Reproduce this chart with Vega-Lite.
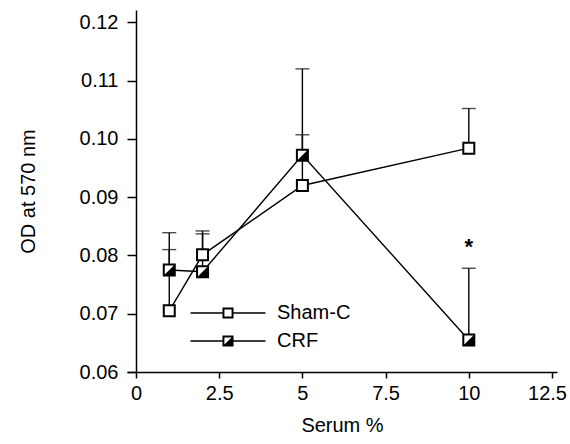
{
  "$schema": "https://vega.github.io/schema/vega-lite/v6.json",
  "width": 430,
  "height": 362,
  "autosize": {"type": "none"},
  "padding": {"left": 127, "top": 10, "right": 13, "bottom": 72},
  "background": "white",
  "config": {
    "view": {"stroke": null},
    "font": "Liberation Sans",
    "axis": {
      "grid": false,
      "domainColor": "black",
      "domainWidth": 1.5,
      "tickColor": "black",
      "tickWidth": 1.5,
      "labelColor": "black",
      "labelFont": "Liberation Sans",
      "labelFontSize": 20,
      "titleFont": "Liberation Sans",
      "titleFontSize": 20,
      "titleFontWeight": "normal",
      "titleColor": "black"
    }
  },
  "data": {
    "values": [
      {"group": "Sham-C", "serum": 1, "od": 0.0705, "upper": 0.0810, "sig": ""},
      {"group": "Sham-C", "serum": 2, "od": 0.0801, "upper": 0.0837, "sig": ""},
      {"group": "Sham-C", "serum": 5, "od": 0.0920, "upper": 0.1007, "sig": ""},
      {"group": "Sham-C", "serum": 10, "od": 0.0984, "upper": 0.1052, "sig": ""},
      {"group": "CRF", "serum": 1, "od": 0.0775, "upper": 0.0839, "sig": ""},
      {"group": "CRF", "serum": 2, "od": 0.0772, "upper": 0.0842, "sig": ""},
      {"group": "CRF", "serum": 5, "od": 0.0972, "upper": 0.1120, "sig": ""},
      {"group": "CRF", "serum": 10, "od": 0.0655, "upper": 0.0778, "sig": "*"}
    ]
  },
  "encoding": {
    "x": {
      "field": "serum",
      "type": "quantitative",
      "scale": {"domain": [-0.27, 12.65], "nice": false, "zero": false},
      "axis": {
        "title": "Serum %",
        "values": [0, 2.5, 5, 7.5, 10, 12.5],
        "format": ".3~g",
        "tickSize": 6,
        "labelPadding": 5,
        "labelOffset": {"condition": {"test": "datum.value == 12.5", "value": -5}, "value": 0},
        "titlePadding": 12
      }
    },
    "y": {
      "field": "od",
      "type": "quantitative",
      "scale": {"domain": [0.06, 0.1221], "nice": false, "zero": false},
      "axis": {
        "title": "OD at 570 nm",
        "values": [0.06, 0.07, 0.08, 0.09, 0.1, 0.11, 0.12],
        "format": ".2f",
        "offset": -9,
        "tickSize": 9,
        "labelPadding": 9,
        "titlePadding": 41
      }
    }
  },
  "layer": [
    {
      "mark": {"type": "rule", "color": "black", "strokeWidth": 1.4},
      "encoding": {"y2": {"field": "upper"}}
    },
    {
      "mark": {"type": "tick", "orient": "horizontal", "color": "black", "size": 14, "thickness": 1.4},
      "encoding": {"y": {"field": "upper", "type": "quantitative"}}
    },
    {
      "mark": {"type": "line", "color": "black", "strokeWidth": 1.4},
      "encoding": {"detail": {"field": "group"}}
    },
    {
      "mark": {"type": "point", "filled": true, "fill": "white", "stroke": "black", "strokeWidth": 2, "size": 121, "opacity": 1, "shape": "square"}
    },
    {
      "transform": [{"filter": "datum.group === 'CRF'"}],
      "mark": {"type": "point", "filled": true, "fill": "black", "strokeWidth": 0, "size": 121, "opacity": 1, "shape": "M1,-1V1H-1Z"}
    },
    {
      "transform": [{"filter": "false"}],
      "mark": {"type": "point", "filled": true, "color": "black", "strokeWidth": 0, "size": 169, "opacity": 1},
      "encoding": {
        "shape": {
          "field": "group",
          "type": "nominal",
          "scale": {
            "domain": ["Sham-C", "CRF"],
            "range": [
              "M-5.77,-0.1H-0.85V0.1H-5.77Z M0.85,-0.1H5.77V0.1H0.85Z M-0.85,-0.85H0.85V0.85H-0.85Z M-0.55,-0.55V0.55H0.55V-0.55Z",
              "M-5.77,-0.1H-0.85V0.1H-5.77Z M0.85,-0.1H5.77V0.1H0.85Z M-0.85,-0.85H0.85V0.85H-0.85Z M-0.55,-0.55V0.55L0.55,-0.55Z"
            ]
          },
          "legend": {
            "title": null,
            "orient": "none",
            "legendX": 91,
            "legendY": 293,
            "padding": 0,
            "rowPadding": 8,
            "symbolOffset": 0,
            "symbolSize": 169,
            "symbolFillColor": "black",
            "symbolStrokeColor": "black",
            "symbolStrokeWidth": 0,
            "symbolOpacity": 1,
            "labelOffset": 39,
            "labelFont": "Liberation Sans",
            "labelFontSize": 20,
            "labelColor": "black"
          }
        }
      }
    },
    {
      "transform": [{"filter": "datum.sig !== ''"}],
      "mark": {"type": "text", "fontSize": 22, "fontWeight": "bold", "color": "black", "baseline": "alphabetic", "dy": -14, "font": "Liberation Sans"},
      "encoding": {
        "y": {"field": "upper", "type": "quantitative"},
        "text": {"field": "sig"}
      }
    }
  ]
}
